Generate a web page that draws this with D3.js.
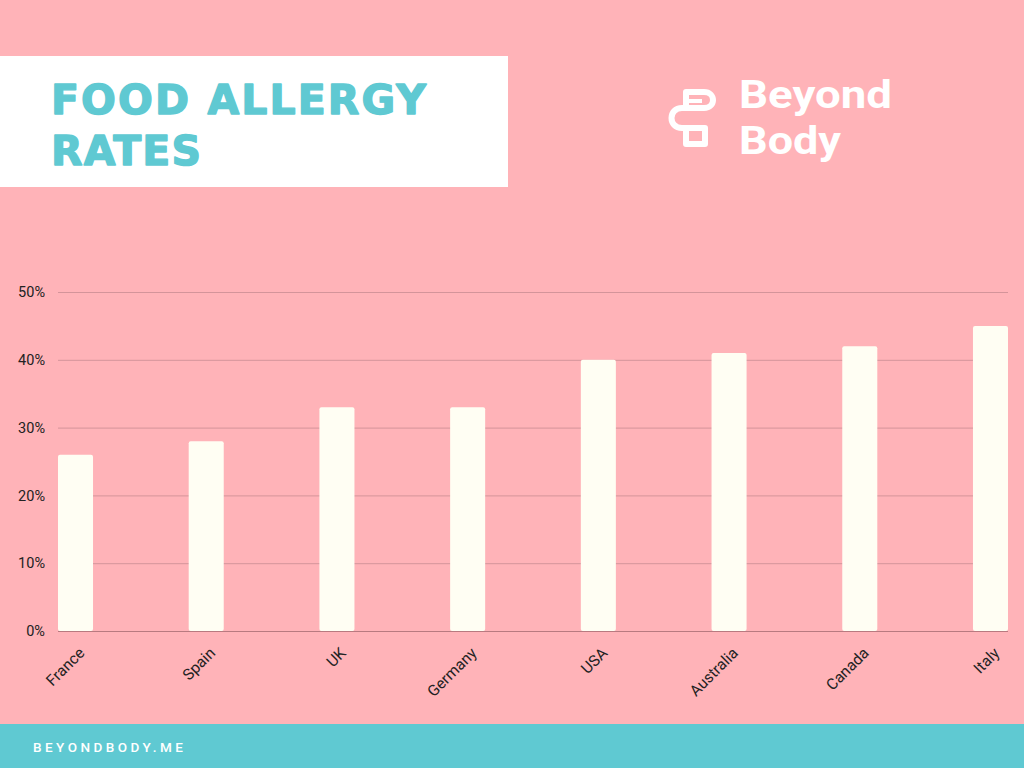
<!DOCTYPE html>
<html>
<head>
<meta charset="utf-8">
<script src="https://cdn.jsdelivr.net/npm/d3@7"></script>
<style>
  html, body { margin: 0; padding: 0; background: #FFB3B8; }
  svg { display: block; }
</style>
</head>
<body>
<svg id="chart" width="1024" height="768"></svg>
<script>
const categories = ["France", "Spain", "UK", "Germany", "USA", "Australia", "Canada", "Italy"];
const allergyRates = [26, 28, 33, 33, 40, 41, 42, 45];
const yTicks = [0, 10, 20, 30, 40, 50];

const W = 1024, H = 768;
const svg = d3.select("#chart");

// background
svg.append("rect").attr("width", W).attr("height", H).attr("fill", "#FFB3B8");

// title box
svg.append("rect").attr("x", 0).attr("y", 56).attr("width", 508).attr("height", 131).attr("fill", "#FFFFFF");
const titleFont = "'DejaVu Sans', Roboto, sans-serif";
function title(txt, yb, len) {
  svg.append("text").attr("x", 51).attr("y", yb)
    .attr("font-family", titleFont).attr("font-weight", 700).attr("font-size", 41)
    .attr("fill", "#5FC9D2").attr("stroke", "#5FC9D2").attr("stroke-width", 1.4)
    .attr("stroke-linejoin", "round")
    .attr("textLength", len).attr("lengthAdjust", "spacing")
    .text(txt);
}
title("FOOD ALLERGY", 114, 375);
title("RATES", 165, 150);

// logo
const logo = svg.append("g");
logo.append("path")
  .attr("d", "M686,108 V92 H704 C716,92 716,108 704,108 H682 C668,108 668,128 682,128 H705 V144 H686 V128")
  .attr("fill", "none").attr("stroke", "#FFFFFF").attr("stroke-width", 6)
  .attr("stroke-linejoin", "round").attr("stroke-linecap", "butt");
logo.append("path")
  .attr("d", "M689,101 H702")
  .attr("fill", "none").attr("stroke", "#FFFFFF").attr("stroke-width", 4);
logo.append("text").attr("x", 739).attr("y", 108)
  .attr("font-family", "Roboto, sans-serif").attr("font-weight", 700).attr("font-size", 38)
  .attr("fill", "#FFFFFF").attr("textLength", 153).attr("lengthAdjust", "spacingAndGlyphs")
  .text("Beyond");
logo.append("text").attr("x", 739).attr("y", 154)
  .attr("font-family", "Roboto, sans-serif").attr("font-weight", 700).attr("font-size", 38)
  .attr("fill", "#FFFFFF").attr("textLength", 102).attr("lengthAdjust", "spacingAndGlyphs")
  .text("Body");

// scales
const x = d3.scaleBand().domain(categories).range([58, 1008]).paddingInner(0.732).paddingOuter(0);
const y = d3.scaleLinear().domain([0, 50]).range([631, 292]);

// y axis with gridlines
const yAxis = svg.append("g").attr("transform", "translate(58,0)")
  .call(d3.axisLeft(y).tickValues(yTicks).tickFormat(d => d + "%").tickSize(-950).tickPadding(13));
yAxis.select(".domain").remove();
yAxis.selectAll(".tick line").attr("stroke", "#D4949A").attr("stroke-width", 1);
yAxis.selectAll(".tick text")
  .attr("font-family", "Roboto, sans-serif").attr("font-size", 14.5).attr("fill", "#222222");

// bars
svg.append("g").selectAll("rect")
  .data(categories.map((c, i) => ({ c, v: allergyRates[i] })))
  .join("rect")
  .attr("x", d => x(d.c))
  .attr("y", d => y(d.v))
  .attr("width", x.bandwidth())
  .attr("height", d => y(0) - y(d.v))
  .attr("rx", 2)
  .attr("fill", "#FFFEF3");

// baseline
svg.append("line").attr("x1", 58).attr("x2", 1008).attr("y1", y(0) + 0.5).attr("y2", y(0) + 0.5)
  .attr("stroke", "#B87A80").attr("stroke-width", 1);

// x labels
const xAxis = svg.append("g").attr("transform", `translate(0,${y(0)})`)
  .call(d3.axisBottom(x).tickSize(0).tickPadding(0));
xAxis.select(".domain").remove();
xAxis.selectAll(".tick text")
  .attr("font-family", "Roboto, sans-serif").attr("font-size", 15.5).attr("fill", "#222222")
  .attr("text-anchor", "end").attr("dy", 0).attr("y", 0)
  .attr("transform", "translate(10,23) rotate(-45)");

// footer
svg.append("rect").attr("x", 0).attr("y", 724).attr("width", W).attr("height", 44).attr("fill", "#5FC9D2");
svg.append("text").attr("x", 33).attr("y", 752)
  .attr("font-family", "Roboto, sans-serif").attr("font-weight", 500).attr("font-size", 13.5)
  .attr("fill", "#FFFFFF").attr("textLength", 150).attr("lengthAdjust", "spacing")
  .text("BEYONDBODY.ME");
</script>
</body>
</html>
